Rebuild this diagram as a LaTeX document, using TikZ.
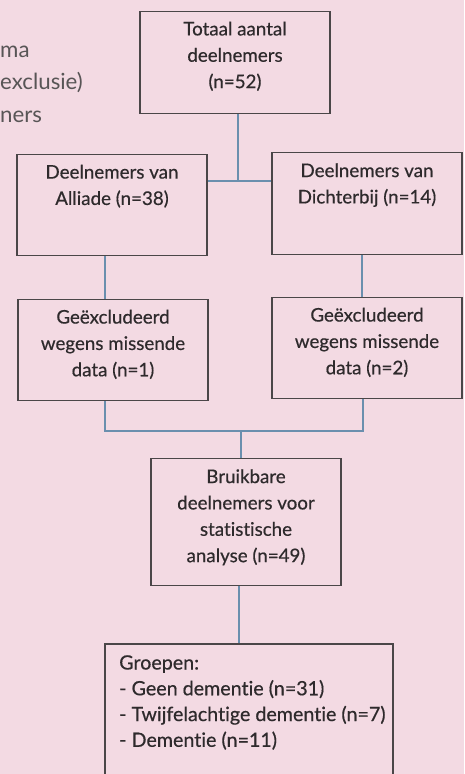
\documentclass[tikz,border=0pt]{standalone}
\usepackage{fontspec}
\setmainfont{Lato}[Ligatures=NoCommon]
\newfontfamily\boxfont{Lato}[Ligatures=NoCommon, FakeBold=0.5]
\usetikzlibrary{positioning}
\definecolor{Blush}{HTML}{F3DAE3}
\definecolor{Frame}{HTML}{4A4648}
\definecolor{Ink}{HTML}{2E2A2C}
\definecolor{Steel}{HTML}{6A8FAE}
\tikzset{
 box/.style={draw=Frame, line width=1.1pt, minimum width=5.7cm, minimum height=3.05cm, inner sep=0pt},
 boxtext/.style={align=center, inner sep=0pt, text=Ink, font=\boxfont\fontsize{16}{22.5}\selectfont},
 link/.style={draw=Steel, line width=1.1pt}
}

\begin{document}
\begin{tikzpicture}[x=0.03cm, y=-0.03cm]
\fill[Blush] (0,0) rectangle (464,774);
\useasboundingbox (0,0) rectangle (464,774);
\clip (0,0) rectangle (464,774);

% cut-off title at the left
\node[anchor=north west, align=left, inner sep=0pt, text=Ink!80, font=\fontsize{19}{27.5}\selectfont] (title) at (0,46) {ma\\exclusie)\\ners};

% boxes
\node[box] (tot) at (235,62.5) {};
\node[boxtext, below=0.31cm of tot.north] (totx) {Totaal aantal\\deelnemers\\(n=52)};

\node[box] (alli) at (112,205) {};
\node[boxtext, below=0.33cm of alli.north] (allix) {Deelnemers van\\Alliade (n=38)};
\node[box] (dich) at (367,203.5) {};
\node[boxtext, below=0.33cm of dich.north] (dichx) {Deelnemers van\\Dichterbij (n=14)};

\node[box] (exl) at (113,350) {};
\node[boxtext, below=0.33cm of exl.north] (exlx) {Geëxcludeerd\\wegens missende\\data (n=1)};
\node[box] (exr) at (367,348) {};
\node[boxtext, below=0.33cm of exr.north] (exrx) {Geëxcludeerd\\wegens missende\\data (n=2)};

\node[box, minimum height=3.8cm] (bruik) at (246,522) {};
\node[boxtext, below=0.33cm of bruik.north] (bruikx) {Bruikbare\\deelnemers voor\\statistische\\analyse (n=49)};

\node[box, minimum width=8.64cm, minimum height=4.8cm] (groep) at (249,724) {};
\node[boxtext, align=left, anchor=north west, font=\boxfont\fontsize{16.8}{22}\selectfont] (groepx) at (119,655) {Groepen:\\- Geen dementie (n=31)\\- Twijfelachtige dementie (n=7)\\- Dementie (n=11)};

% connectors
\coordinate (j1) at (238,181);
\coordinate (j2) at (241,431);
\draw[link] (tot.south -| j1) -- (j1);
\draw[link] (alli.east |- j1) -- (dich.west |- j1);
\draw[link] ([xshift=-0.21cm]alli.south) -- ([xshift=-0.21cm]alli.south |- exl.north);
\draw[link] ([xshift=-0.15cm]dich.south) -- ([xshift=-0.15cm]dich.south |- exr.north);
\draw[link] ([xshift=-0.24cm]exl.south) |- (j2) -| ([xshift=-0.12cm]exr.south);
\draw[link] (j2) -- (j2 |- bruik.north);
\draw[link] ([xshift=-0.21cm]bruik.south) -- ([xshift=-0.21cm]bruik.south |- groep.north);
\end{tikzpicture}
\end{document}
